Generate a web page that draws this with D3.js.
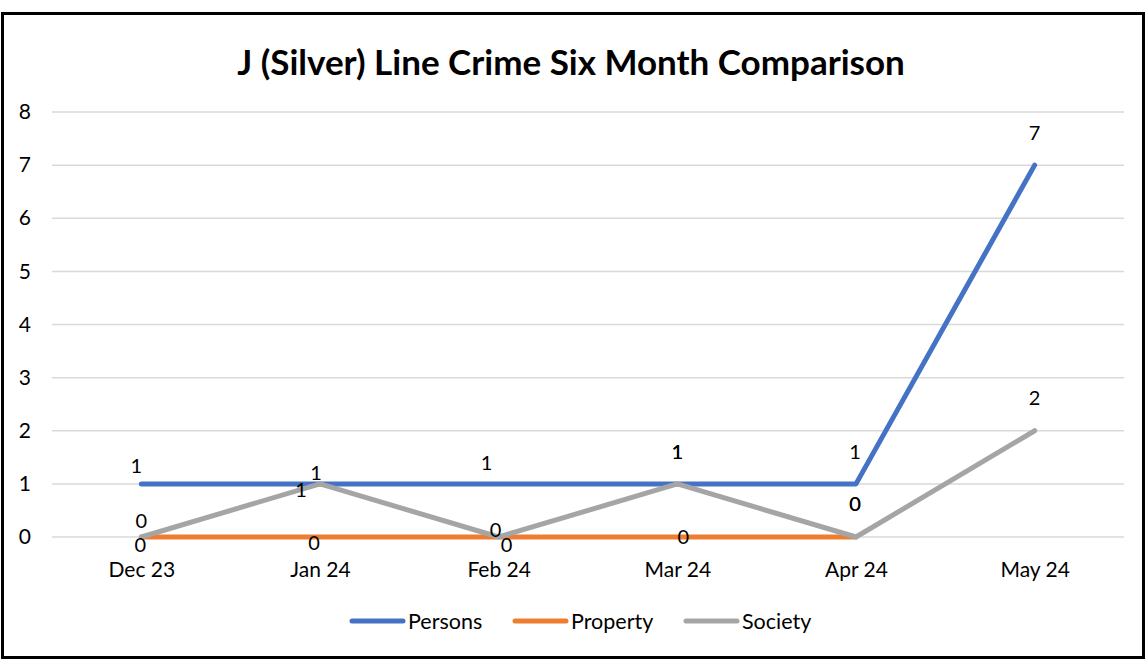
<!DOCTYPE html>
<html><head><meta charset="utf-8">
<script src="https://cdn.jsdelivr.net/npm/d3@7"></script>
<style>body{margin:0;background:#fff;}svg{display:block;font-family:Lato,sans-serif;}</style>
</head><body>
<svg id="c" width="1147" height="660"></svg>
<script>
const months = ["Dec 23","Jan 24","Feb 24","Mar 24","Apr 24","May 24"];
const persons = [1,1,1,1,1,7];
const property = [0,0,0,0,0,null];
const society = [0,1,0,1,0,2];
const yTicks = [0,1,2,3,4,5,6,7,8];
const seriesNames = ["Persons","Property","Society"];
const title = "J (Silver) Line Crime Six Month Comparison";

const FONT = "Lato,sans-serif";
const colors = {Persons:"#4472C4",Property:"#ED7D31",Society:"#A5A5A5"};
// label nudges (layout, px) per series per point
const nudge = {
  Persons:[[-5,-18],[-4,-11],[-12,-21],[0,-32],[-1,-32],[0,-32]],
  Property:[[-1,8],[-6,6],[8,8],[6,0],[-1,-33],[0,0]],
  Society:[[0,-16],[-19,6],[-3,-7],[0,-32],[-1,-33],[0,-33]]
};

const svg = d3.select("#c");
svg.append("rect").attr("x",2.5).attr("y",13.5).attr("width",1141).attr("height",644)
  .attr("fill","#fff").attr("stroke","#000").attr("stroke-width",3);

const x = d3.scalePoint().domain(months).range([52,1124]).padding(0.5);
const y = d3.scaleLinear().domain([0,8]).range([537,112]);

svg.append("text").attr("x",571).attr("y",75).attr("text-anchor","middle")
  .attr("font-size",35).attr("font-weight","bold").attr("fill","#000").text(title);

// gridlines
svg.append("g").selectAll("line").data(yTicks).join("line")
  .attr("x1",52).attr("x2",1124).attr("y1",d=>y(d)).attr("y2",d=>y(d))
  .attr("stroke","#d9d9d9").attr("stroke-width",1.5);

// y axis labels
const yAxis = d3.axisLeft(y).tickValues(yTicks).tickSize(0).tickPadding(0).tickFormat(d3.format("d"));
const ga = svg.append("g").attr("transform","translate(31,0)").call(yAxis);
ga.select(".domain").remove();
ga.selectAll("text").attr("font-size",21).attr("fill","#000").attr("font-family",FONT);

// x axis labels
const xAxis = d3.axisBottom(x).tickSize(0).tickPadding(0);
const gx = svg.append("g").attr("transform","translate(0,562)").call(xAxis);
gx.select(".domain").remove();
gx.selectAll("text").attr("font-size",21).attr("fill","#000").attr("font-family",FONT);

const data = {Persons:persons,Property:property,Society:society};
const line = d3.line().defined(d=>d.v!==null).x(d=>x(d.m)).y(d=>y(d.v));
const order = ["Persons","Property","Society"];
order.forEach(s=>{
  const pts = months.map((m,i)=>({m,v:data[s][i],i}));
  svg.append("path").datum(pts).attr("d",line).attr("fill","none")
    .attr("stroke",colors[s]).attr("stroke-width",5)
    .attr("stroke-linejoin","round").attr("stroke-linecap","round");
});
order.forEach(s=>{
  const pts = months.map((m,i)=>({m,v:data[s][i],i})).filter(d=>d.v!==null);
  svg.append("g").selectAll("text").data(pts).join("text")
    .attr("x",d=>x(d.m)+nudge[s][d.i][0])
    .attr("y",d=>y(d.v)+nudge[s][d.i][1])
    .attr("dy","0.35em").attr("text-anchor","middle").attr("font-size",20).attr("fill","#000")
    .text(d=>d.v);
});

// legend
const lg = svg.append("g");
const legX = [350,513,684];
seriesNames.forEach((s,i)=>{
  lg.append("line").attr("x1",legX[i]+2).attr("x2",legX[i]+53).attr("y1",621).attr("y2",621)
    .attr("stroke",colors[s]).attr("stroke-width",5).attr("stroke-linecap","round");
  lg.append("text").attr("x",legX[i]+58).attr("y",621).attr("dy","0.35em")
    .attr("font-size",21.5).attr("fill","#000").text(s);
});
</script>
</body></html>
